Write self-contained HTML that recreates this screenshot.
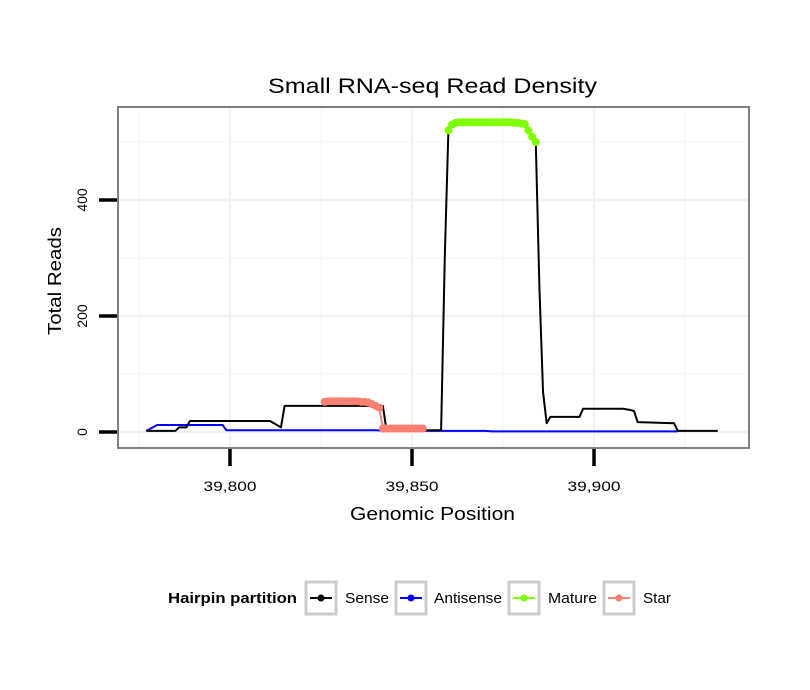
<!DOCTYPE html>
<html><head><meta charset="utf-8"><style>
body{margin:0;background:#fff;}
svg{display:block;font-family:"Liberation Sans",sans-serif;}
</style></head><body>
<svg id="chart" width="810" height="690" viewBox="0 0 810 690">
<text x="268" y="93" font-size="21" textLength="329" lengthAdjust="spacingAndGlyphs">Small RNA-seq Read Density</text>
<rect x="118" y="107" width="631" height="341" fill="#fff"/>
<g id="grid"></g>
<g id="series"></g>
<rect x="118" y="107" width="631" height="341" fill="none" stroke="#808080" stroke-width="2"/>
<g id="axes"></g>
<text x="350" y="520" font-size="18" textLength="165" lengthAdjust="spacingAndGlyphs">Genomic Position</text>
<text x="0" y="0" font-size="18" textLength="108" lengthAdjust="spacingAndGlyphs" transform="translate(61,335) rotate(-90)">Total Reads</text>
<g>
<text x="168" y="603" font-size="15" font-weight="bold" textLength="129" lengthAdjust="spacingAndGlyphs">Hairpin partition</text>
<g><rect x="306" y="582" width="30" height="32" fill="#fff" stroke="#ccc" stroke-width="3"/><line x1="310" y1="598" x2="332" y2="598" stroke="#000" stroke-width="2"/><circle cx="321" cy="598" r="3.5" fill="#000"/><text x="345" y="603" font-size="15" textLength="44" lengthAdjust="spacingAndGlyphs">Sense</text></g>
<g><rect x="396" y="582" width="30" height="32" fill="#fff" stroke="#ccc" stroke-width="3"/><line x1="400" y1="598" x2="422" y2="598" stroke="#0000ff" stroke-width="2"/><circle cx="411" cy="598" r="3.5" fill="#0000ff"/><text x="434" y="603" font-size="15" textLength="68" lengthAdjust="spacingAndGlyphs">Antisense</text></g>
<g><rect x="509" y="582" width="30" height="32" fill="#fff" stroke="#ccc" stroke-width="3"/><line x1="513" y1="598" x2="535" y2="598" stroke="#7fff00" stroke-width="2"/><circle cx="524" cy="598" r="3.5" fill="#7fff00"/><text x="548" y="603" font-size="15" textLength="49" lengthAdjust="spacingAndGlyphs">Mature</text></g>
<g><rect x="604" y="582" width="30" height="32" fill="#fff" stroke="#ccc" stroke-width="3"/><line x1="608" y1="598" x2="630" y2="598" stroke="#fa8072" stroke-width="2"/><circle cx="619" cy="598" r="3.5" fill="#fa8072"/><text x="643" y="603" font-size="15" textLength="28" lengthAdjust="spacingAndGlyphs">Star</text></g>
</g>
</svg>
<script>
const xTicks=[39800,39850,39900];
const xTickLabels=["39,800","39,850","39,900"];
const yTicks=[0,200,400];
const yTickLabels=["0","200","400"];
const senseX=[39777,39785,39786,39788,39789,39811,39814,39815,39842,39843,39858,39859,39860,39861,39881,39882,39883,39884,39885,39886,39887,39888,39896,39897,39908,39910,39911,39912,39922,39923,39934];
const senseY=[2,2,8,8,19,19,8,45,45,3,3,300,520,530,532,520,509,500,250,69,15,26,26,40,40,38,36,17,15,2,2];
const antiX=[39777,39780,39798,39799,39811,39840,39845,39852,39870,39872,39890,39923];
const antiY=[2,12,12,3,3,3,2,2,2,1,1,1];
const matureX=[39860,39861,39862,39863,39864,39865,39866,39867,39868,39869,39870,39871,39872,39873,39874,39875,39876,39877,39878,39879,39880,39881,39882,39883,39884];
const matureY=[520,530,533,534,534,534,534,534,534,534,534,534,534,534,534,534,534,534,533,533,532,531,520,509,500];
const starX=[39826,39827,39828,39829,39830,39831,39832,39833,39834,39835,39836,39837,39838,39839,39840,39841,39842,39843,39844,39845,39846,39847,39848,39849,39850,39851,39852,39853];
const starY=[52,53,53,53,53,53,53,53,53,53,52,52,51,48,45,42,6,6,6,6,6,6,6,6,6,6,6,6];
const X0=39800,PX0=230,KX=3.64,PY0=432,KY=0.58;
function sx(v){return PX0+(v-X0)*KX;}
function sy(v){return PY0-v*KY;}
const NS="http://www.w3.org/2000/svg";
function mk(t,a,p){const e=document.createElementNS(NS,t);for(const k in a)e.setAttribute(k,a[k]);p.appendChild(e);return e;}
const grid=document.getElementById('grid'),ser=document.getElementById('series'),axes=document.getElementById('axes');
for(let v=39775;v<=39950;v+=25){const x=sx(v);if(x<119||x>748)continue;
const l=mk('line',{x1:x,x2:x,y1:108,y2:447,stroke:v%50===0?'#f2f2f2':'#f8f8f8','stroke-width':v%50===0?2.5:1.5},grid);

}
for(let v=0;v<=600;v+=100){const y=sy(v);if(y<108||y>447)continue;
const l=mk('line',{x1:119,x2:748,y1:y,y2:y,stroke:v%200===0?'#f2f2f2':'#f8f8f8','stroke-width':v%200===0?2.5:1.5},grid);

}
xTicks.forEach((v,i)=>{const x=sx(v);
const t=mk('line',{x1:x,x2:x,y1:449,y2:466,stroke:'#000','stroke-width':3.5},axes);


const tx=mk('text',{x:x-26.5,y:491,'font-size':14,textLength:53,lengthAdjust:'spacingAndGlyphs'},axes);tx.textContent=xTickLabels[i];

});
yTicks.forEach((v,i)=>{const y=sy(v);
const t=mk('line',{x1:99,x2:117,y1:y,y2:y,stroke:'#000','stroke-width':3.5},axes);


const tx=mk('text',{x:0,y:0,'font-size':14,'text-anchor':'middle',transform:`translate(87,${y}) rotate(-90)`},axes);tx.textContent=yTickLabels[i];

});
function line(xs,ys,c,name){const p=mk('polyline',{points:xs.map((x,i)=>sx(x)+','+sy(ys[i])).join(' '),fill:'none',stroke:c,'stroke-width':2,'stroke-linejoin':'round'},ser);

}
function pts(xs,ys,c,name){xs.forEach((x,i)=>{const ci=mk('circle',{cx:sx(x),cy:sy(ys[i]),r:4,fill:c},ser);

});}
line(antiX,antiY,'#0000ff','antisense-line');
line(senseX,senseY,'#000','sense-line');
line(matureX,matureY,'#7fff00','mature-line');pts(matureX,matureY,'#7fff00','mature-point');
line(starX,starY,'#fa8072','star-line');pts(starX,starY,'#fa8072','star-point');
</script>
</body></html>
